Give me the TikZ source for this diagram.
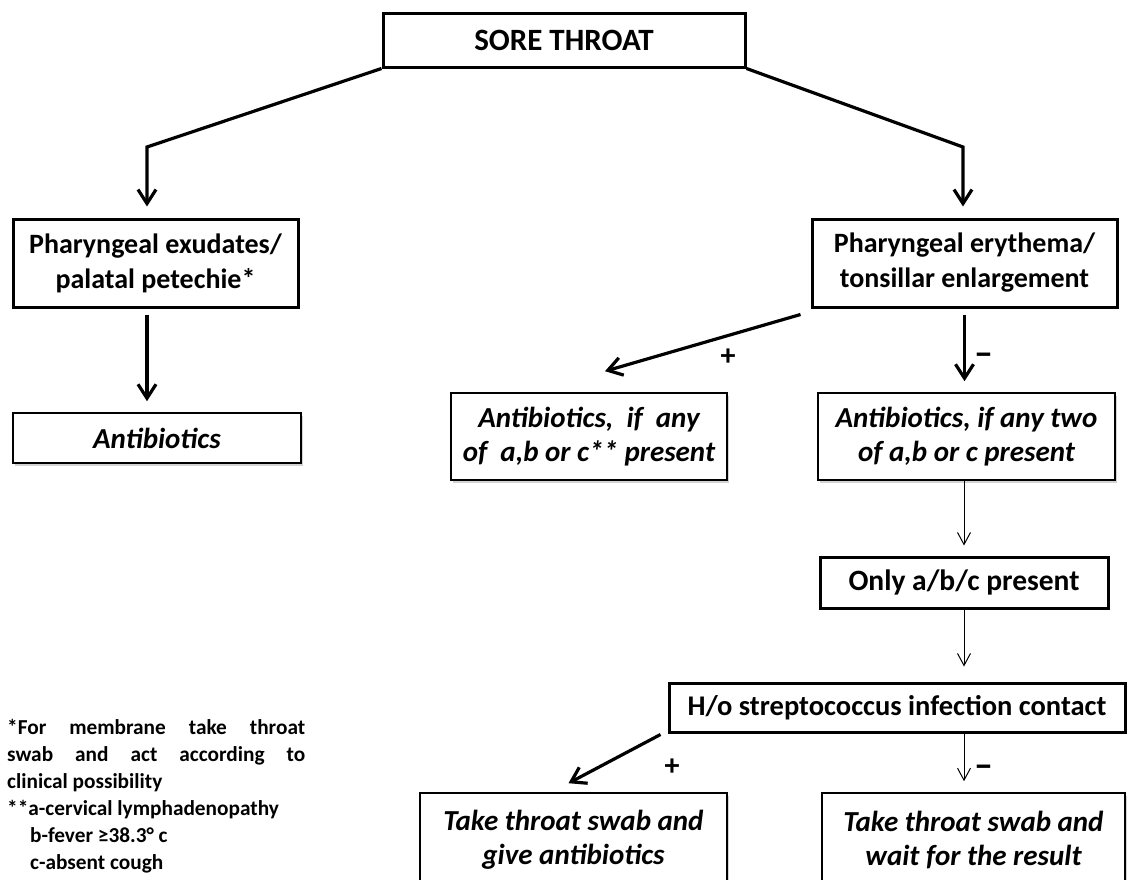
\documentclass[tikz,border=0pt]{standalone}
\usepackage{fontspec}
\setmainfont{Carlito}
\usepackage{tikz}
\usetikzlibrary{positioning}
\usetikzlibrary{calc}
\usetikzlibrary{arrows.meta}
\usetikzlibrary{shadows}

\begin{document}
\begin{tikzpicture}[
    x=1pt, y=-1pt,
    heavy box/.style={
        draw, line width=3pt, inner sep=0pt, align=center,
        font=\fontsize{28}{35}\selectfont\bfseries
    },
    light box/.style={
        draw, line width=1.6pt, inner sep=0pt, align=center, fill=white,
        drop shadow={shadow xshift=1.5pt, shadow yshift=-3pt, opacity=0.35},
        font=\fontsize{29}{34}\selectfont\bfseries\itshape
    },
    heavy arrow/.style={line width=3.2pt, -{Straight Barb[length=14pt,width=18pt]}},
    light arrow/.style={line width=1pt, -{Straight Barb[length=12pt,width=13pt]}},
    sign/.style={inner sep=0pt, font=\fontsize{30}{34}\selectfont\bfseries},
    minus sign/.style={inner sep=0pt, font=\fontsize{38}{40}\selectfont\bfseries}
  ]

  \useasboundingbox (0,0) rectangle (1127,879);
  \clip (0,0) rectangle (1127,879);

  \node[heavy box, minimum width=362pt, minimum height=54pt,
        font=\fontsize{31}{36}\selectfont\bfseries] (title) at (564,40) {SORE THROAT};

  \node[heavy box, minimum width=285pt, minimum height=88pt] (exud) at (155.5,263)
      {Pharyngeal exudates/\\palatal petechie*};
  \node[light box, minimum width=288pt, minimum height=50pt] (abx) at (157,438)
      {Antibiotics};

  \node[heavy box, minimum width=305pt, minimum height=88pt] (ery) at (964.5,263)
      {Pharyngeal erythema/\\tonsillar enlargement};
  \node[light box, minimum width=276pt, minimum height=87pt] (anyone) at (589,436.5)
      {Antibiotics,\ \ if\ \ any\\of\ \ a,b or c** present};
  \node[light box, minimum width=297pt, minimum height=87pt] (anytwo) at (966.5,436.5)
      {Antibiotics, if any two\\of a,b or c present};

  \node[heavy box, minimum width=288pt, minimum height=51pt,
        font=\fontsize{29.5}{35}\selectfont\bfseries] (only) at (964,582.5)
      {Only a/b/c present};
  \node[heavy box, minimum width=456pt, minimum height=49pt,
        font=\fontsize{28.5}{35}\selectfont\bfseries] (ho) at (897,707.5)
      {H/o streptococcus infection contact};

  \node[light box, minimum width=307pt, minimum height=94pt] (swabgive) at (573.5,840)
      {Take throat swab and\\give antibiotics};
  \node[light box, minimum width=303pt, minimum height=94pt] (swabwait) at (973.5,840)
      {Take throat swab and\\wait for the result};

  % bends under the title
  \coordinate (lbend) at (147,147);
  \coordinate (rbend) at (963,147);

  \draw[heavy arrow, shorten >=11pt] (title.south west) -- (lbend) -- (lbend |- exud.north);
  \draw[heavy arrow, shorten >=11pt] (title.south east) -- (rbend) -- (rbend |- ery.north);
  \draw[heavy arrow, shorten <=6pt, shorten >=11pt] (lbend |- exud.south) -- (lbend |- abx.north);

  \draw[heavy arrow] ($(ery.south west)+(-10,6)$) -- ($(anyone.north)+(16,-21)$);
  \draw[heavy arrow, shorten <=6pt, shorten >=11pt] (ery.south) -- (ery.south |- anytwo.north);
  \node[sign] (plusA) at (728,357) {+};
  \node[minus sign] (minusA) at (984,359) {–};

  \draw[light arrow, shorten >=10pt] (only.north |- anytwo.south) -- (only.north);
  \draw[light arrow, shorten >=15pt] (only.south) -- (only.south |- ho.north);

  \draw[heavy arrow] ($(ho.south west)+(-7,1)$) -- ($(swabgive.north)+(-5,-9)$);
  \draw[light arrow, shorten >=11pt] (only.south |- ho.south) -- (only.south |- swabwait.north);
  \node[sign] (plusB) at (672,767) {+};
  \node[minus sign] (minusB) at (984,771) {–};

  \node[anchor=north west, inner sep=0pt, align=left,
        font=\fontsize{21.3}{27}\selectfont\bfseries] (notes) at (7,719.5)
      {\makebox[298pt][s]{*For membrane take throat}\\
       \makebox[298pt][s]{swab and act according to}\\
       clinical possibility\\
       **a-cervical lymphadenopathy\\
       \hspace*{23pt}b-fever ≥38.3° c\\
       \hspace*{23pt}c-absent cough};

\end{tikzpicture}
\end{document}
